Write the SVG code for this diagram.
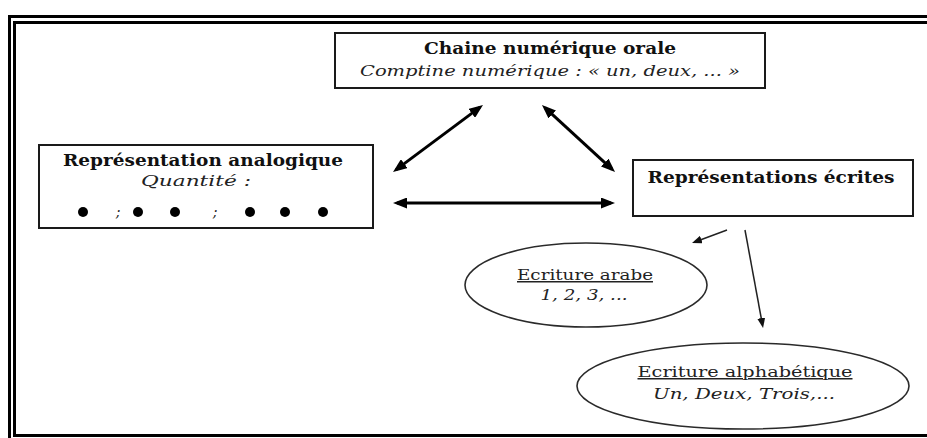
<svg xmlns="http://www.w3.org/2000/svg" width="927" height="438" viewBox="0 0 927 438">
  <style>
    .box { fill: #fff; stroke: #1a1a1a; stroke-width: 2; }
    .oval { fill: #fff; stroke: #2a2a2a; stroke-width: 1.6; }
    .frame { fill: none; stroke: #000; stroke-width: 3; }
    .title { font-family: "DejaVu Serif", "Liberation Serif", serif; font-weight: bold; font-size: 16px; fill: #111; text-anchor: middle; }
    .ital { font-family: "DejaVu Serif", "Liberation Serif", serif; font-style: italic; font-size: 14px; fill: #222; text-anchor: middle; }
    .plain { font-family: "DejaVu Serif", "Liberation Serif", serif; font-size: 15px; fill: #222; text-anchor: middle; text-decoration: underline; }
    .thick { stroke: #000; stroke-width: 3; fill: none; marker-start: url(#headBig); marker-end: url(#headBig); }
    .thin { stroke: #222; stroke-width: 1.5; fill: none; marker-end: url(#headSmall); }
    .dot { fill: #000; }
  </style>
  <defs>
    <marker id="headBig" markerUnits="userSpaceOnUse" markerWidth="14" markerHeight="11" refX="10" refY="5.5" orient="auto-start-reverse">
      <path d="M0,0 L14,5.5 L0,11 Z" fill="#000"/>
    </marker>
    <marker id="headSmall" markerUnits="userSpaceOnUse" markerWidth="10" markerHeight="8" refX="7" refY="4" orient="auto">
      <path d="M0,0 L10,4 L0,8 Z" fill="#111"/>
    </marker>
  </defs>

  <rect width="927" height="438" fill="#fff"/>

  <!-- double page frame, open on the right -->
  <g id="frame">
    <path class="frame" d="M927,16.5 H9.5 V438"/>
    <path class="frame" d="M927,22.5 H14.5 V435.5 H927"/>
  </g>

  <g id="chaine-orale">
    <rect class="box" x="335" y="33" width="430" height="55"/>
    <text class="title" x="550" y="54" textLength="252" lengthAdjust="spacingAndGlyphs">Chaine numérique orale</text>
    <text class="ital" x="550" y="76" textLength="380" lengthAdjust="spacingAndGlyphs">Comptine numérique : « un, deux, ... »</text>
  </g>

  <g id="representation-analogique">
    <rect class="box" x="39" y="145" width="334" height="83"/>
    <text class="title" x="203" y="166" textLength="280" lengthAdjust="spacingAndGlyphs">Représentation analogique</text>
    <text class="ital" x="196" y="186" textLength="110" lengthAdjust="spacingAndGlyphs">Quantité :</text>
    <circle class="dot" cx="83" cy="212" r="5"/>
    <text class="ital" x="118" y="217" font-size="13">;</text>
    <circle class="dot" cx="138" cy="212" r="5"/>
    <circle class="dot" cx="175" cy="212" r="5"/>
    <text class="ital" x="215" y="217" font-size="13">;</text>
    <circle class="dot" cx="250" cy="212" r="5"/>
    <circle class="dot" cx="285" cy="212" r="5"/>
    <circle class="dot" cx="323" cy="212" r="5"/>
  </g>

  <g id="representations-ecrites">
    <rect class="box" x="633" y="160" width="280" height="56"/>
    <text class="title" x="771" y="183" textLength="247" lengthAdjust="spacingAndGlyphs">Représentations écrites</text>
  </g>

  <g id="ecriture-arabe">
    <ellipse class="oval" cx="586" cy="285" rx="121" ry="42"/>
    <text class="plain" x="585" y="280" textLength="136" lengthAdjust="spacingAndGlyphs">Ecriture arabe</text>
    <text class="ital" x="584" y="300" font-size="15" textLength="87" lengthAdjust="spacingAndGlyphs">1, 2, 3, ...</text>
  </g>

  <g id="ecriture-alphabetique">
    <ellipse class="oval" cx="743" cy="386" rx="166" ry="43"/>
    <text class="plain" x="745" y="377" textLength="215" lengthAdjust="spacingAndGlyphs">Ecriture alphabétique</text>
    <text class="ital" x="744" y="399" font-size="15" textLength="182" lengthAdjust="spacingAndGlyphs">Un, Deux, Trois,...</text>
  </g>

  <g id="connectors">
    <line class="thick" x1="396.2" y1="169.6" x2="479.8" y2="107.4"/>
    <line class="thick" x1="544.9" y1="107.7" x2="612.1" y2="169.3"/>
    <line class="thick" x1="397" y1="203" x2="611" y2="203"/>
    <line class="thin" x1="727" y1="230" x2="694.8" y2="242"/>
    <line class="thin" x1="745" y1="230" x2="762.5" y2="325"/>
  </g>
</svg>
